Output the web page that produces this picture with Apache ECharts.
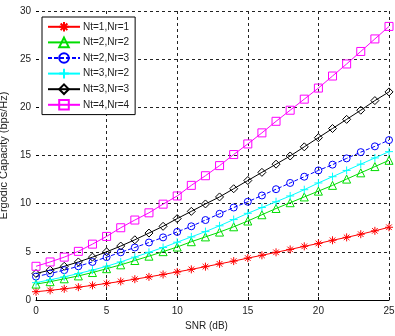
<!DOCTYPE html>
<html><head><meta charset="utf-8">
<script src="https://cdn.jsdelivr.net/npm/echarts@6/dist/echarts.min.js"></script>
<style>html,body{margin:0;padding:0;background:#fff}#c{width:395px;height:336px}</style>
</head><body><div id="c"></div>
<script>
const snr = [0,1,2,3,4,5,6,7,8,9,10,11,12,13,14,15,16,17,18,19,20,21,22,23,24,25];
const names = ['Nt=1,Nr=1','Nt=2,Nr=2','Nt=2,Nr=3','Nt=3,Nr=2','Nt=3,Nr=3','Nt=4,Nr=4'];
const nt1nr1 = [0.86,1.0,1.16,1.33,1.52,1.72,1.93,2.16,2.4,2.65,2.91,3.18,3.46,3.75,4.04,4.35,4.64,4.95,5.25,5.57,5.87,6.2,6.5,6.83,7.18,7.55];
const nt2nr2 = [1.65,1.9,2.2,2.5,2.85,3.25,3.65,4.1,4.55,5.02,5.5,6.05,6.55,7.05,7.6,8.2,8.85,9.5,10.1,10.7,11.3,11.9,12.55,13.2,13.85,14.5];
const nt2nr3 = [2.43,2.75,3.1,3.5,3.95,4.45,4.95,5.45,5.97,6.5,7.07,7.65,8.3,8.95,9.6,10.2,10.85,11.5,12.15,12.8,13.45,14.05,14.7,15.35,15.95,16.6];
const nt3nr2 = [1.8,2.1,2.4,2.75,3.1,3.5,3.95,4.45,4.95,5.45,6.0,6.55,7.1,7.7,8.35,9.0,9.6,10.2,10.8,11.45,12.15,12.8,13.45,14.1,14.75,15.4];
const nt3nr3 = [2.75,3.1,3.5,3.95,4.45,5.0,5.6,6.25,6.95,7.65,8.45,9.2,9.97,10.7,11.55,12.4,13.25,14.1,14.95,15.9,16.85,17.8,18.75,19.7,20.7,21.6];
const nt4nr4 = [3.5,3.95,4.45,5.05,5.8,6.6,7.5,8.3,9.05,9.95,10.8,11.9,12.9,13.95,15.1,16.2,17.35,18.55,19.7,20.85,22.0,23.25,24.5,25.8,27.1,28.4];
const xTicks = [0,5,10,15,20,25];
const yTicks = [0,5,10,15,20,25,30];

const values = [nt1nr1, nt2nr2, nt2nr3, nt3nr2, nt3nr3, nt4nr4];
const colors = ['#ff0000','#00dd00','#0000ff','#00ffff','#000000','#ff00ff'];
const symbols = [
  'path://M5,0L5,10M0,5L10,5M1.5,1.5L8.5,8.5M8.5,1.5L1.5,8.5',
  'triangle',
  'circle',
  'path://M5,0L5,10M0,5L10,5',
  'diamond',
  'rect'
];
const sizes = [8,8,7,8,8,8];
const lineTypes = ['solid','solid',[4,2],'solid','solid','solid'];

const font = 'Arial, "Liberation Sans", sans-serif';
const chart = echarts.init(document.getElementById('c'), null, {renderer:'canvas'});
chart.setOption({
  animation:false,
  backgroundColor:'#fff',
  grid:{left:36,right:6,top:11,bottom:36,containLabel:false,outerBoundsMode:'none'},
  legend:{
    orient:'vertical', left:42, top:17,
    data:names,
    backgroundColor:'#fff', borderColor:'#000', borderWidth:1, borderRadius:0,
    padding:[4,6,4,5], itemWidth:32, itemHeight:12, itemGap:4,
    textStyle:{fontFamily:font, fontSize:10, color:'#222', padding:[0,0,0,-2]}
  },
  xAxis:{
    type:'value', min:0, max:25, interval:5,
    name:'SNR (dB)', nameLocation:'middle', nameGap:18,
    nameTextStyle:{fontFamily:font,fontSize:10,color:'#222',padding:[0,12,0,0]},
    axisLine:{show:true,lineStyle:{color:'#000',width:1}},
    axisTick:{show:true,inside:true,length:3,lineStyle:{color:'#000'}},
    axisLabel:{fontFamily:font,fontSize:10,color:'#222',margin:6,
      formatter:v=>xTicks.includes(v)?String(v):''},
    splitLine:{show:true,showMinLine:false,lineStyle:{color:'#222',type:[3,3],width:1}}
  },
  yAxis:{
    type:'value', min:0, max:30, interval:5,
    name:'Ergodic Capacity (bps/Hz)', nameLocation:'middle', nameGap:25,
    nameTextStyle:{fontFamily:font,fontSize:11,color:'#222'},
    axisLine:{show:false},
    axisTick:{show:true,inside:true,length:3,lineStyle:{color:'#000'}},
    axisLabel:{fontFamily:font,fontSize:10,color:'#222',margin:5,
      formatter:v=>yTicks.includes(v)?String(v):''},
    splitLine:{show:true,lineStyle:{color:'#222',type:[3,3],width:1}}
  },
  series: names.map((n,i)=>({
    name:n, type:'line',
    data: snr.map((x,j)=>[x, values[i][j]]),
    symbol: symbols[i], symbolSize: sizes[i],
    showAllSymbol:true,
    lineStyle:{color:colors[i], width:1, type:lineTypes[i]},
    itemStyle:{color:'transparent', borderColor:colors[i], borderWidth:1},
    emphasis:{disabled:true}
  }))
});
</script></body></html>
